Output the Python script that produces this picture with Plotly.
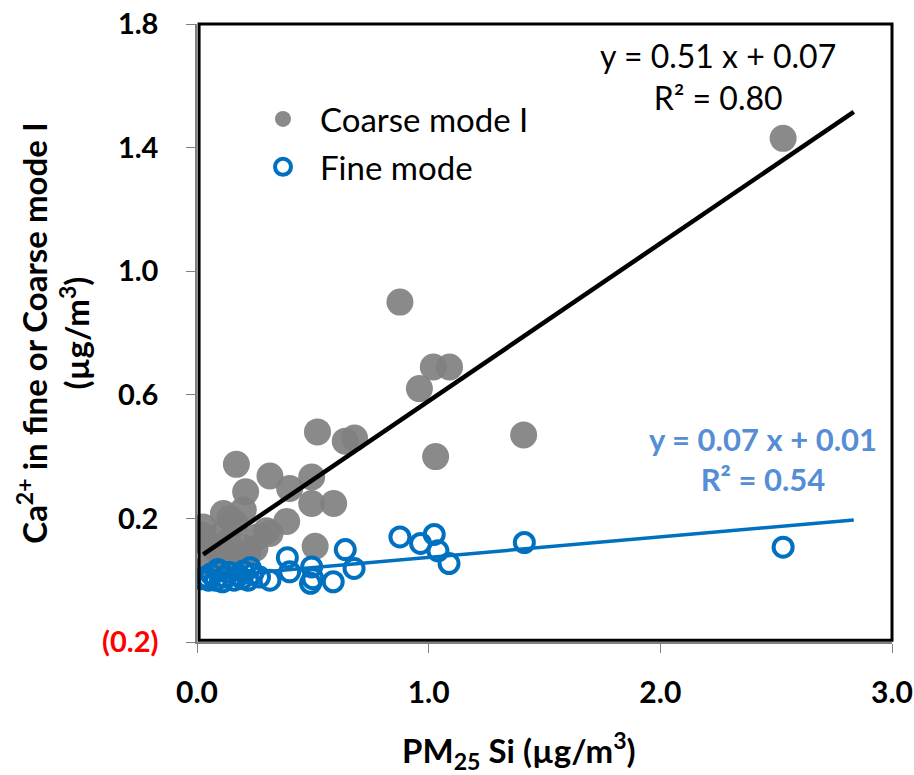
import plotly.graph_objects as go

# Coarse mode I (gray filled)
coarse_x = [2.53, 0.876, 1.02, 1.09, 0.96, 1.03, 1.41, 0.52, 0.64, 0.68, 0.17, 0.315, 0.495,
            0.40, 0.21, 0.495, 0.59, 0.387, 0.114, 0.142, 0.20, 0.164, 0.027, 0.02, 0.092,
            0.315, 0.25, 0.51, 0.135, 0.186, 0.056, 0.12, 0.26, 0.22, 0.30, 0.08, 0.16, 0.04]
coarse_y = [1.43, 0.90, 0.69, 0.69, 0.62, 0.40, 0.47, 0.48, 0.45, 0.46, 0.375, 0.337, 0.334,
            0.297, 0.286, 0.248, 0.248, 0.19, 0.216, 0.20, 0.227, 0.183, 0.172, 0.146, 0.14,
            0.151, 0.103, 0.11, 0.124, 0.108, 0.055, 0.07, 0.14, 0.09, 0.16, 0.10, 0.05, 0.12]

# Fine mode (blue open)
fine_x = [2.53, 1.413, 0.876, 0.965, 1.024, 1.04, 1.088, 0.64, 0.678, 0.588, 0.39, 0.40, 0.495,
          0.50, 0.49, 0.315, 0.02, 0.04, 0.06, 0.08, 0.10, 0.12, 0.14, 0.16, 0.18, 0.20, 0.22,
          0.24, 0.27, 0.11, 0.05, 0.195, 0.23, 0.09]
fine_y = [0.107, 0.122, 0.14, 0.119, 0.148, 0.095, 0.054, 0.099, 0.038, -0.005, 0.073, 0.027,
          0.043, 0.005, -0.01, 0.0, 0.005, 0.01, 0.02, 0.0, 0.03, 0.01, 0.025, 0.0, 0.015, 0.03,
          0.0, 0.02, 0.01, -0.005, 0.0, 0.005, 0.04, 0.035]

# Trendlines
coarse_slope, coarse_int = 0.51, 0.07
fine_slope, fine_int = 0.066, 0.008
coarse_trend_x = [0.027, 2.835]
fine_trend_x = [0.0, 2.835]

y_ticks = [-0.2, 0.2, 0.6, 1.0, 1.4, 1.8]
y_ticktext = ["<b><span style='color:#FF0000;font-weight:bold'>(0.2)</span></b>",
              "0.2", "0.6", "1.0", "1.4", "1.8"]
x_ticks = [0.0, 1.0, 2.0, 3.0]
x_ticktext = ["0.0", "1.0", "2.0", "3.0"]

fig = go.Figure()

fig.add_trace(go.Scatter(
    x=coarse_x, y=coarse_y, mode="markers", name="Coarse mode I",
    legendgroup="a",
    marker=dict(symbol="circle", size=27, color="rgba(128,128,128,0.92)",
                line=dict(width=0))))
fig.add_trace(go.Scatter(
    x=fine_x, y=fine_y, mode="markers", name="Fine mode",
    legendgroup="b",
    marker=dict(symbol="circle-open", size=19, color="#0070C0",
                line=dict(width=4, color="#0070C0"))))

fig.add_trace(go.Scatter(
    x=coarse_trend_x, y=[coarse_slope * v + coarse_int for v in coarse_trend_x],
    mode="lines", line=dict(color="black", width=4.5), showlegend=False, hoverinfo="skip"))
fig.add_trace(go.Scatter(
    x=fine_trend_x, y=[fine_slope * v + fine_int for v in fine_trend_x],
    mode="lines", line=dict(color="#0070C0", width=3.5), showlegend=False, hoverinfo="skip"))

fig.add_shape(type="rect", xref="paper", yref="paper", x0=0.003, x1=1, y0=0.003, y1=1,
              line=dict(color="black", width=3), layer="above")

# Regression labels
fig.add_annotation(x=(718 - 197) / 695, y=(642 - 76) / 618, xref="paper", yref="paper",
                   xanchor="center", yanchor="middle",
                   showarrow=False, text="y = 0.51 x + 0.07<br>R² = 0.80", align="center",
                   font=dict(family="Lato", size=32, color="black"))
fig.add_annotation(x=(763 - 197) / 695, y=(642 - 459) / 618, xref="paper", yref="paper",
                   xanchor="center", yanchor="middle",
                   showarrow=False, text="<b>y = 0.07 x + 0.01<br>R² = 0.54</b>", align="center",
                   font=dict(family="Lato", size=31, color="#558ED5"))

# X axis title (offset left as in the original)
fig.add_annotation(x=(519 - 197) / 695, y=(642 - 750) / 618, xref="paper", yref="paper",
                   showarrow=False, xanchor="center", yanchor="middle",
                   text="<b>PM<sub>25</sub> Si (µg/m<sup>3</sup>)</b>",
                   font=dict(family="Lato", size=33, color="black"))

fig.update_layout(
    width=914, height=775,
    margin=dict(l=197, r=22, t=24, b=133, autoexpand=False),
    paper_bgcolor="white", plot_bgcolor="white",
    showlegend=True,
    legend=dict(x=(246 - 197) / 695, y=(642 - 91) / 618, xanchor="left", yanchor="top",
                font=dict(family="Lato", size=33, color="black"),
                bgcolor="rgba(0,0,0,0)", tracegroupgap=2, traceorder="grouped",
                itemwidth=64),
    xaxis=dict(range=[0, 3], tickvals=x_ticks, ticktext=x_ticktext, automargin=False,
               showgrid=False, zeroline=False, showline=True, linecolor="#808080",
               linewidth=1.5, ticks="outside", ticklen=9, tickcolor="#808080",
               ticklabelstandoff=14,
               tickfont=dict(family="Lato", size=30, color="black", weight="bold")),
    yaxis=dict(range=[-0.2, 1.8], tickvals=y_ticks, ticktext=y_ticktext, automargin=False,
               showgrid=False, zeroline=False, showline=True, linecolor="#808080",
               linewidth=1.5, ticks="outside", ticklen=9, tickcolor="#808080",
               ticklabelstandoff=22,
               tickfont=dict(family="Lato", size=29, color="black", weight="bold"),
               title=dict(text="<b>Ca<sup>2+</sup> in fine or Coarse mode I<br>(µg/m<sup>3</sup>)</b>",
                          font=dict(family="Lato", size=33, color="black"), standoff=2)),
)

fig.write_html("out.html")
